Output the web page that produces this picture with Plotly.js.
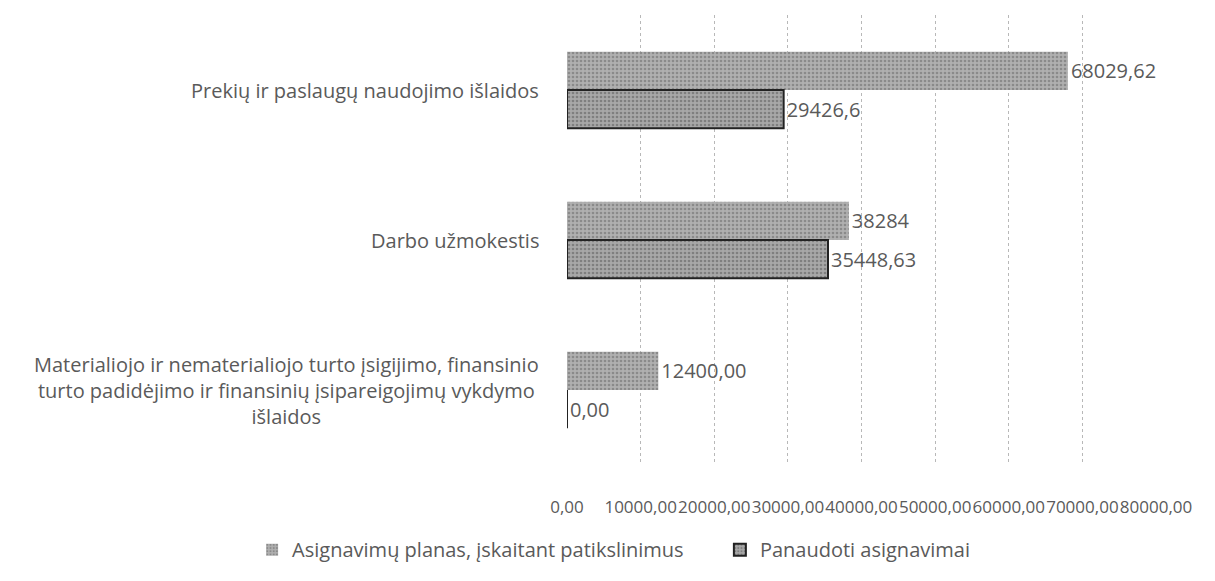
<!DOCTYPE html>
<html><head><meta charset="utf-8">
<script src="https://cdn.plot.ly/plotly-3.0.1.min.js"></script>
<style>html,body{margin:0;padding:0;background:#fff}</style>
</head><body>
<div id="chart" style="width:1215px;height:581px"></div>
<script>
const categories = [
  "Prekių ir paslaugų naudojimo išlaidos",
  "Darbo užmokestis",
  "Materialiojo ir nematerialiojo turto įsigijimo, finansinio<br>turto padidėjimo ir finansinių įsipareigojimų vykdymo<br>išlaidos"
];
const seriesNames = ["Asignavimų planas, įskaitant patikslinimus", "Panaudoti asignavimai"];
const planValues = [68029.62, 38284, 12400.00];
const planLabels = ["68029,62", "38284", "12400,00"];
const usedValues = [29426.6, 35448.63, 0.00];
const usedLabels = ["29426,6", "35448,63", "0,00"];
const tickValues = [0, 10000, 20000, 30000, 40000, 50000, 60000, 70000, 80000];
const tickLabels = ["0,00", "10000,00", "20000,00", "30000,00", "40000,00", "50000,00", "60000,00", "70000,00", "80000,00"];

const FONT = "'Open Sans', Lato, sans-serif";
const TXT = "#5a5a5a";

const traces = [
  {
    type: "bar", orientation: "h", name: seriesNames[0], legend: "legend",
    y: categories, x: planValues, text: planLabels,
    textposition: "outside", cliponaxis: false,
    textfont: {family: FONT, size: 20, color: TXT},
    marker: {color: "#a3a3a3", line: {width: 0},
      pattern: {shape: ".", fgcolor: "#8a8a8a", bgcolor: "#b0b0b0", size: 4, solidity: 0.35}},
    hoverinfo: "skip"
  },
  {
    type: "bar", orientation: "h", name: seriesNames[1], legend: "legend2",
    y: categories, x: usedValues, text: usedLabels,
    textposition: "outside", cliponaxis: false,
    textfont: {family: FONT, size: 20, color: TXT},
    marker: {color: "#9c9c9c", line: {width: 2, color: "#222222"},
      pattern: {shape: ".", fgcolor: "#7f7f7f", bgcolor: "#a8a8a8", size: 4, solidity: 0.35}},
    hoverinfo: "skip"
  }
];

const annotations = categories.map(c => ({
  xref: "paper", yref: "y", x: 0, y: c, xshift: -26,
  xanchor: "right", yanchor: "middle", align: "center", showarrow: false,
  text: c, font: {family: FONT, size: 20, color: TXT}
}));

const legendBase = {orientation: "h", xref: "container", yref: "container",
  xanchor: "left", y: 0.054, yanchor: "middle", itemwidth: 30,
  font: {family: FONT, size: 20, color: TXT}, bgcolor: "rgba(0,0,0,0)"};

const layout = {
  width: 1215, height: 581,
  margin: {l: 567, r: 59, t: 15, b: 116, autoexpand: false},
  paper_bgcolor: "#ffffff", plot_bgcolor: "#ffffff",
  barmode: "group", bargap: 0.49, bargroupgap: 0,
  font: {family: FONT, size: 17, color: TXT},
  showlegend: true,
  legend: Object.assign({}, legendBase, {x: 0.2075}),
  legend2: Object.assign({}, legendBase, {x: 0.5925}),
  xaxis: {
    range: [0, 80000], tickvals: tickValues, ticktext: tickLabels, tickangle: 0,
    showgrid: true, gridcolor: "#b8b8b8", griddash: "dot", gridwidth: 1,
    zeroline: false, showline: false, ticks: "", ticklabelstandoff: 30,
    tickfont: {family: FONT, size: 17, color: TXT}, fixedrange: true, automargin: false
  },
  yaxis: {
    autorange: "reversed", showticklabels: false, showgrid: false,
    zeroline: false, showline: false, ticks: "", fixedrange: true, automargin: false
  },
  annotations: annotations
};

Plotly.newPlot("chart", traces, layout, {staticPlot: true, displayModeBar: false});
</script>
</body></html>
